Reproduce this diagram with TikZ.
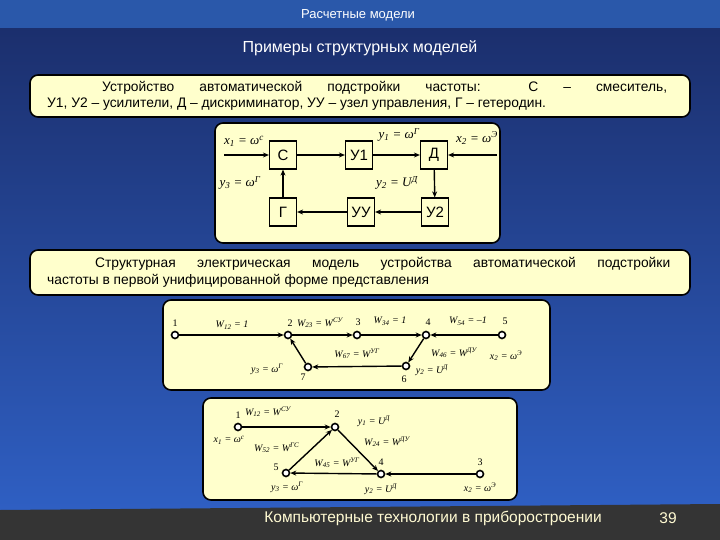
\documentclass[tikz,border=0pt]{standalone}
\usepackage{fontspec}
\setmainfont{Liberation Sans}
\newfontfamily\ser{Liberation Serif}
\usetikzlibrary{arrows.meta}
\definecolor{navy}{RGB}{26,44,104}
\definecolor{lowblue}{RGB}{48,98,200}
\definecolor{topbar}{RGB}{42,88,170}
\definecolor{paper}{RGB}{255,255,204}
\definecolor{foot}{RGB}{52,52,52}
\definecolor{foottxt}{RGB}{255,250,210}
\newcommand\fs[1]{\fontsize{#1}{#1}\selectfont}
\tikzset{
 panel/.style={draw=black,line width=1.6pt,fill=paper,rounded corners=8pt},
 blk/.style={draw=black,line width=1.2pt,minimum width=27pt,minimum height=28pt,font=\fs{15},inner sep=0pt},
 vx/.style={circle,draw=black,line width=1.6pt,fill=white,minimum size=7pt,inner sep=0pt},
 ar/.style={line width=1.4pt,-{Stealth[length=6pt,width=5pt]}},
 lb/.style={font=\ser\itshape\fs{10},inner sep=1pt},
 lbb/.style={font=\ser\itshape\fs{13},inner sep=1pt},
 nb/.style={font=\ser\fs{10},inner sep=1pt},
 body/.style={anchor=west,inner sep=0pt,font=\fs{13.8}}
}
\begin{document}
\begin{tikzpicture}[x=1pt,y=-1pt]
\useasboundingbox (0,0) rectangle (720,540);
\shade[top color=navy,bottom color=lowblue] (0,0) rectangle (720,540);
\fill[topbar] (0,0) rectangle (720,28);
\node[text=white,font=\fs{13}] (hdr) at (358,15) {Расчетные модели};
\node[text=white,font=\fs{16}] (ttl) at (360,48) {Примеры структурных моделей};
\fill[foot] (0,510) -- (720,504) -- (720,540) -- (0,540) -- cycle;
\node[text=foottxt,font=\fs{15.5}] (ft) at (433,518) {Компьютерные технологии в приборостроении};
\node[text=foottxt,font=\fs{15.5}] (pg) at (668,518) {39};

% text box 1
\draw[panel] (30,75) rectangle (690,117);
\node[body] (t1a) at (47,88) {\makebox[620pt][s]{\hspace{55pt}Устройство автоматической подстройки частоты: С – смеситель,}};
\node[body] (t1b) at (47,104) {У1, У2 – усилители, Д – дискриминатор, УУ – узел управления, Г – гетеродин.};

% block diagram
\draw[panel] (215,123) rectangle (500,243);
\node[blk] (C) at (283,155) {С};
\node[blk] (U1) at (359,155) {У1};
\node[blk] (D) at (434,155) {Д};
\node[blk] (G) at (283,212) {Г};
\node[blk] (UU) at (361,212) {УУ};
\node[blk] (U2) at (435,212) {У2};
\coordinate (in1) at (224,155);
\coordinate (in2) at (497,155);
\draw[ar] (in1) -- (C);
\draw[ar] (in2) -- (D);
\draw[ar] (C) -- (U1);
\draw[ar] (U1) -- (D);
\draw[ar] (D) -- (U2);
\draw[ar] (U2) -- (UU);
\draw[ar] (UU) -- (G);
\draw[ar] (G) -- (C);
\node[lbb] (l1) at (244,141) {x\textsubscript{1} = ω\textsuperscript{с}};
\node[lbb] (l2) at (399,135) {y\textsubscript{1} = ω\textsuperscript{Г}};
\node[lbb] (l3) at (477,138) {x\textsubscript{2} = ω\textsuperscript{Э}};
\node[lbb] (l4) at (240,183) {y\textsubscript{3} = ω\textsuperscript{Г}};
\node[lbb] (l5) at (397,183) {y\textsubscript{2} = U\textsuperscript{Д}};

% text box 2
\draw[panel] (30,250) rectangle (690,295);
\node[body] (t2a) at (47,264) {\makebox[623pt][s]{\hspace{48pt}Структурная электрическая модель устройства автоматической подстройки}};
\node[body] (t2b) at (47,281) {частоты в первой унифицированной форме представления};

% graph 1
\draw[panel] (163,300) rectangle (550,390);
\node[vx] (a1) at (175,335) {};
\node[vx] (a2) at (288,335) {};
\node[vx] (a3) at (357,335) {};
\node[vx] (a4) at (426,335) {};
\node[vx] (a5) at (502,335) {};
\node[vx] (a7) at (308,367) {};
\node[vx] (a6) at (406,366) {};
\draw[ar] (a1) -- (a2);
\draw[ar] (a2) -- (a3);
\draw[ar] (a3) -- (a4);
\draw[ar] (a5) -- (a4);
\draw[ar] (a4) -- (a6);
\draw[ar] (a6) -- (a7);
\draw[ar] (a7) -- (a2);
\node[nb] (n1) at (175,323) {1};
\node[nb] (n2) at (290,323) {2};
\node[nb] (n3) at (358,322) {3};
\node[nb] (n4) at (428,322) {4};
\node[nb] (n5) at (505,321) {5};
\node[nb] (n7) at (303,377) {7};
\node[nb] (n6) at (404,379) {6};
\node[lb] (g1) at (232,325) {W\textsubscript{12} = 1};
\node[lb] (g2) at (320,323) {W\textsubscript{23} = W\textsuperscript{СУ}};
\node[lb] (g3) at (390,321) {W\textsubscript{34} = 1};
\node[lb] (g4) at (468,321) {W\textsubscript{54} = –1};
\node[lb] (g5) at (357,354) {W\textsubscript{67} = W\textsuperscript{УГ}};
\node[lb] (g6) at (454,353) {W\textsubscript{46} = W\textsuperscript{ДУ}};
\node[lb] (g7) at (506,356) {x\textsubscript{2} = ω\textsuperscript{Э}};
\node[lb] (g8) at (267,369) {y\textsubscript{3} = ω\textsuperscript{Г}};
\node[lb] (g9) at (432,370) {y\textsubscript{2} = U\textsuperscript{Д}};

% graph 2
\draw[panel] (203,398) rectangle (517,500);
\node[vx] (b1) at (238,427) {};
\node[vx] (b2) at (335,427) {};
\node[vx] (b5) at (286,473) {};
\node[vx] (b4) at (381,474) {};
\node[vx] (b3) at (480,474) {};
\draw[ar] (b1) -- (b2);
\draw[ar] (b2) -- (b4);
\draw[ar] (b3) -- (b4);
\draw[ar] (b4) -- (b5);
\draw[ar] (b5) -- (b2);
\node[nb] (m1) at (238,415) {1};
\node[nb] (m2) at (337,414) {2};
\node[nb] (m5) at (276,467) {5};
\node[nb] (m4) at (381,462) {4};
\node[nb] (m3) at (480,462) {3};
\node[lb] (h1) at (268,412) {W\textsubscript{12} = W\textsuperscript{СУ}};
\node[lb] (h2) at (374,421) {y\textsubscript{1} = U\textsuperscript{Д}};
\node[lb] (h3) at (229,440) {x\textsubscript{1} = ω\textsuperscript{с}};
\node[lb,anchor=west] (h4) at (253,448) {W\textsubscript{52} = W\textsuperscript{ГС}};
\node[lb] (h5) at (387,442) {W\textsubscript{24} = W\textsuperscript{ДУ}};
\node[lb] (h6) at (337,463) {W\textsubscript{45} = W\textsuperscript{УГ}};
\node[lb] (h7) at (287,487) {y\textsubscript{3} = ω\textsuperscript{Г}};
\node[lb] (h8) at (381,489) {y\textsubscript{2} = U\textsuperscript{Д}};
\node[lb] (h9) at (480,488) {x\textsubscript{2} = ω\textsuperscript{Э}};
\end{tikzpicture}
\end{document}
